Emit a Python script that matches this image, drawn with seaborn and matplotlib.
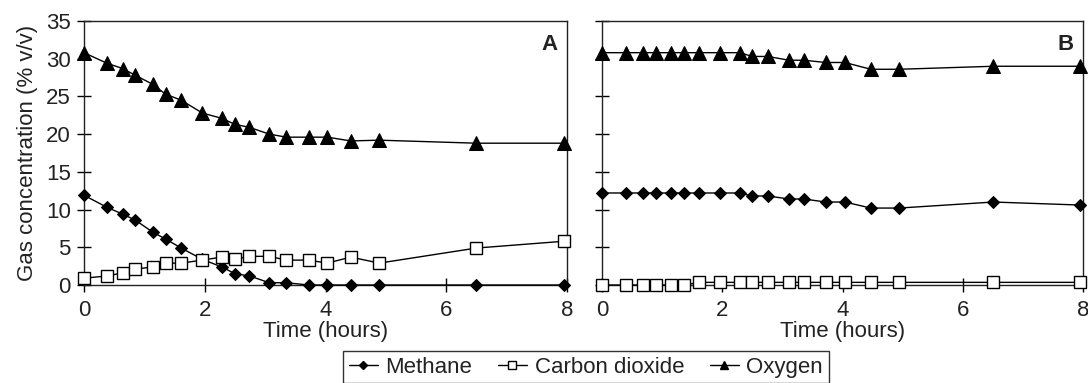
import numpy as np
import pandas as pd
import matplotlib
matplotlib.use("Agg")
import matplotlib.pyplot as plt
import seaborn as sns
from matplotlib.lines import Line2D

sns.set_theme(style="ticks")
plt.rcParams['font.family'] = ['Liberation Sans', 'DejaVu Sans']

# Sampling times (hours)
times_a = [0, 0.38, 0.64, 0.85, 1.14, 1.35, 1.61, 1.96, 2.28, 2.50, 2.74, 3.07, 3.35, 3.72, 4.03, 4.42, 4.89, 6.50, 7.95]
times_b = [0, 0.40, 0.68, 0.90, 1.15, 1.37, 1.61, 1.97, 2.29, 2.50, 2.76, 3.11, 3.36, 3.72, 4.04, 4.47, 4.94, 6.51, 7.95]

# Panel A
methane_a = [11.9, 10.3, 9.4, 8.6, 7.0, 6.1, 4.9, 3.4, 2.4, 1.5, 1.2, 0.3, 0.3, 0.0, 0.0, 0.0, 0.0, 0.0, 0.0]
co2_a = [0.9, 1.2, 1.6, 2.1, 2.4, 2.9, 2.9, 3.3, 3.7, 3.4, 3.8, 3.8, 3.3, 3.3, 2.9, 3.7, 2.9, 4.9, 5.8]
oxygen_a = [30.8, 29.4, 28.7, 27.8, 26.6, 25.3, 24.5, 22.8, 22.1, 21.3, 20.9, 20.0, 19.6, 19.6, 19.6, 19.1, 19.2, 18.8, 18.8]

# Panel B
methane_b = [12.2, 12.2, 12.2, 12.2, 12.2, 12.2, 12.2, 12.2, 12.2, 11.8, 11.8, 11.4, 11.4, 11.0, 11.0, 10.2, 10.2, 11.0, 10.6]
co2_b = [0.0, 0.0, 0.0, 0.0, 0.0, 0.0, 0.35, 0.35, 0.35, 0.35, 0.35, 0.35, 0.35, 0.35, 0.35, 0.35, 0.35, 0.35, 0.35]
oxygen_b = [30.8, 30.8, 30.8, 30.8, 30.8, 30.8, 30.8, 30.8, 30.8, 30.3, 30.3, 29.8, 29.8, 29.5, 29.5, 28.6, 28.6, 29.0, 29.0]

series_names = ["Methane", "Carbon dioxide", "Oxygen"]
x_ticks = [0, 2, 4, 6, 8]
y_ticks = [0, 5, 10, 15, 20, 25, 30, 35]

styles = {
    "Methane": dict(marker="D", markersize=6.5, markerfacecolor="black", markeredgecolor="black"),
    "Carbon dioxide": dict(marker="s", markersize=9, markerfacecolor="white", markeredgecolor="black", markeredgewidth=1.0),
    "Oxygen": dict(marker="^", markersize=9.5, markerfacecolor="black", markeredgecolor="black"),
}

FS = 16
TXT = "#222222"
fig = plt.figure(figsize=(10.88, 3.83), dpi=100)
ax_a = fig.add_axes([84/1088, 1-285/383, (567-84)/1088, (285-21)/383])
ax_b = fig.add_axes([602/1088, 1-285/383, (1083-602)/1088, (285-21)/383])

panels = [
    (ax_a, times_a, [methane_a, co2_a, oxygen_a], "A"),
    (ax_b, times_b, [methane_b, co2_b, oxygen_b], "B"),
]

for ax, t, vals, lab in panels:
    for name, v in zip(series_names, vals):
        df = pd.DataFrame({"t": t, "v": v})
        sns.lineplot(data=df, x="t", y="v", ax=ax, color="black", linewidth=1.0,
                     clip_on=False, zorder=3, **styles[name])
    ax.set_xlim(0, 8)
    ax.set_ylim(0, 35)
    ax.set_xticks(x_ticks)
    ax.set_yticks(y_ticks)
    ax.tick_params(direction="inout", length=10, width=1.0, color="black",
                   labelsize=FS, labelcolor=TXT)
    ax.tick_params(axis="x", pad=5.5)
    ax.tick_params(axis="y", pad=4.5)
    for s in ax.spines.values():
        s.set_color(TXT)
        s.set_linewidth(1.0)
        s.set_visible(True)
    ax.set_xlabel("Time (hours)", fontsize=FS, color=TXT, labelpad=0)
    ax.set_ylabel("")
    ax.text(0.98, 0.91, lab, transform=ax.transAxes, ha="right", va="center",
            fontsize=FS, fontweight="bold", color=TXT)
    ax.set_facecolor("white")

ax_a.set_ylabel("Gas concentration (% v/v)", fontsize=FS, color=TXT, labelpad=6)
ax_b.tick_params(axis="y", labelleft=False)

handles = [Line2D([0], [0], color="black", linewidth=1.0, **styles[n]) for n in series_names]
leg = fig.legend(handles, series_names, loc="lower center", bbox_to_anchor=(586/1088, -0.03),
                 ncol=3, frameon=True, fancybox=False, fontsize=FS, handlelength=1.3,
                 markerscale=0.65, handletextpad=0.35, columnspacing=1.15, borderpad=0.25,
                 edgecolor="black", labelcolor=TXT)
leg.get_frame().set_linewidth(1.0)

fig.savefig("out.png", dpi=100, facecolor="white")
